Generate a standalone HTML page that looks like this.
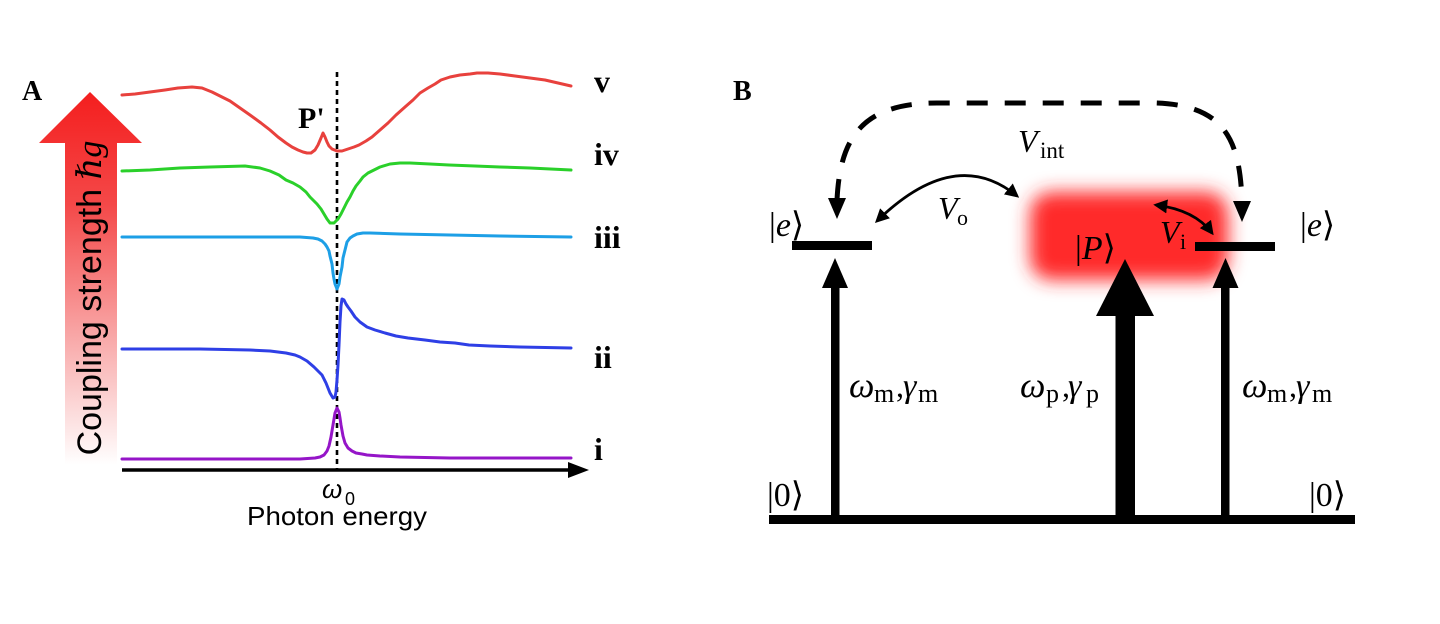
<!DOCTYPE html>
<html>
<head>
<meta charset="utf-8">
<style>
  html,body{margin:0;padding:0;background:#fff;}
  svg{display:block;}
  .lbl{font-family:"Liberation Serif","DejaVu Serif",serif;font-weight:bold;fill:#000;}
  .m{font-family:"Liberation Serif","DejaVu Serif",serif;fill:#000;}
  .it{font-style:italic;}
  .sans{font-family:"Liberation Sans","DejaVu Sans",sans-serif;fill:#000;}
</style>
</head>
<body>
<svg width="1440" height="624" viewBox="0 0 1440 624" xmlns="http://www.w3.org/2000/svg">
  <defs>
    <linearGradient id="ag" x1="0" y1="92" x2="0" y2="465" gradientUnits="userSpaceOnUse">
      <stop offset="0" stop-color="#f41e1e"/>
      <stop offset="0.3" stop-color="#f44848"/>
      <stop offset="0.7" stop-color="#f9b3b3"/>
      <stop offset="1" stop-color="#ffffff"/>
    </linearGradient>
    <filter id="blur" x="-30%" y="-50%" width="160%" height="200%">
      <feGaussianBlur stdDeviation="9"/>
    </filter>
    <marker id="ah" viewBox="0 0 10 10" refX="8" refY="5" markerWidth="5" markerHeight="5" orient="auto-start-reverse" markerUnits="strokeWidth">
      <path d="M0,0 L10,5 L0,10 z" fill="#000"/>
    </marker>
  </defs>
  <rect width="1440" height="624" fill="#fff"/>

  <!-- ================= Panel A ================= -->
  <text class="lbl" x="22" y="100" font-size="28">A</text>

  <!-- gradient arrow -->
  <polygon points="90,92 142,143 117,143 117,466 65,466 65,143 39,143" fill="url(#ag)"/>
  <text class="sans" font-size="34" transform="translate(101,298) rotate(-90)" text-anchor="middle">Coupling strength <tspan class="m it" font-size="34">ℏg</tspan></text>

  <!-- dashed line -->
  <line x1="337" y1="72" x2="337" y2="470" stroke="#000" stroke-width="2.6" stroke-dasharray="5 4"/>

  <!-- curves -->
  <polyline fill="none" stroke="#e8413d" stroke-width="3" stroke-linejoin="round" stroke-linecap="round"
    points="122,95 135,94 150,92 165,90 178,88 192,87 202,88 212,92 222,97 230,101 240,108 250,115 261,123 270,130 278,137 286,143 292,147 298,150 303,152 307,153 311,153 315,150 318,145 321,138 323,133 325,137 327,142 329,146 332,149 337,151 342,151 348,149 354,147 359,145 366,141 372,137 380,130 388,123 396,115 405,107 413,100 420,93 428,88 435,84 441,80 450,77 460,75 470,74 477,73 488,73 500,74 515,76 530,78 545,80 558,83 571,86"/>
  <polyline fill="none" stroke="#2ad02a" stroke-width="3" stroke-linejoin="round" stroke-linecap="round"
    points="122,171 150,170 180,168 210,167 245,166 260,168 270,171 279,175 286,180 293,183 300,187 306,192 310,197 314,201 317,204 321,209 324,214 327,219 330,223 334,223 338,219 341,214 344,208 347,202 350,197 353,191 356,186 360,181 363,177 368,173 372,171 380,167 390,164 400,163 410,163 430,164 449,165 475,166 500,167 530,168 571,170"/>
  <polyline fill="none" stroke="#1d9fe6" stroke-width="3" stroke-linejoin="round" stroke-linecap="round"
    points="122,237 200,237 250,237 300,237 313,238 318,239 322,241 325,244 327,247 329,251 330,256 332,264 333,273 334,279 335,284 337,289 339,284 340,277 342,267 343,258 345,250 347,242 350,238 353,236 357,234 363,233 370,233 400,234 450,235 500,236 571,237"/>
  <polyline fill="none" stroke="#2e3fe6" stroke-width="3" stroke-linejoin="round" stroke-linecap="round"
    points="122,349 160,349 200,349 250,350 270,351 286,353 295,355 300,357 307,361 314,367 318,371 322,375 324,379 326,383 328,388 330,393 333,398 335,397 336,392 337,380 338,365 339,345 340,322 341,306 342,299 344,300 346,304 348,307 351,311 355,317 360,322 367,327 375,330 385,333 396,336 408,338 425,340 440,342 455,343 469,345 490,346 520,347 571,348"/>
  <polyline fill="none" stroke="#9515c8" stroke-width="3" stroke-linejoin="round" stroke-linecap="round"
    points="122,459 200,459 300,459 315,458 320,457 324,455 327,451 329,446 331,437 333,425 335,413 337,408 339,412 340,418 341,425 343,436 345,443 348,448 352,451 356,453 362,454 367,455 380,456 400,457 450,458 500,458 571,458"/>

  <!-- x axis -->
  <line x1="122" y1="470" x2="574" y2="470" stroke="#000" stroke-width="3.5"/>
  <polygon points="589,470 568,462 568,478" fill="#000"/>

  <text class="lbl" x="298" y="128" font-size="30">P'</text>

  <!-- series labels -->
  <text class="lbl" x="594" y="92" font-size="32">v</text>
  <text class="lbl" x="594" y="165" font-size="32">iv</text>
  <text class="lbl" x="594" y="248" font-size="32">iii</text>
  <text class="lbl" x="594" y="368" font-size="32">ii</text>
  <text class="lbl" x="594" y="460" font-size="32">i</text>

  <!-- axis labels -->
  <text class="sans it" x="322" y="498" font-size="26">ω</text>
  <text class="sans" x="345" y="505" font-size="18">0</text>
  <text class="sans" x="247" y="525" font-size="26" textLength="180" lengthAdjust="spacingAndGlyphs">Photon energy</text>

  <!-- ================= Panel B ================= -->
  <text class="lbl" x="733" y="100" font-size="28">B</text>

  <!-- red glow -->
  <rect x="1030" y="192" width="198" height="88" rx="22" fill="#ff2a2a" filter="url(#blur)"/>

  <!-- dashed interaction arc -->
  <path d="M 837 200 C 840 140, 860 103, 937 103 L 1155 103 C 1225 105, 1240 140, 1242 202" fill="none" stroke="#000" stroke-width="5" stroke-dasharray="21 17"/>
  <polygon points="837,219 828,198 846,198" fill="#000"/>
  <polygon points="1242,222 1233,201 1251,201" fill="#000"/>

  <text class="m it" x="1018" y="152" font-size="32">V</text>
  <text class="m" x="1040" y="158" font-size="23">int</text>

  <!-- levels -->
  <rect x="792" y="241" width="80" height="9" fill="#000"/>
  <rect x="1195" y="242" width="80" height="9" fill="#000"/>

  <!-- V_o arc -->
  <path d="M 877 221 Q 955 145 1017 196" fill="none" stroke="#000" stroke-width="2.8" marker-start="url(#ah)" marker-end="url(#ah)"/>
  <text class="m it" x="938" y="219" font-size="32">V</text>
  <text class="m" x="957" y="225" font-size="22">o</text>

  <!-- V_i arrow -->
  <path d="M 1156 205 Q 1195 210 1212 233" fill="none" stroke="#000" stroke-width="2.8" marker-start="url(#ah)" marker-end="url(#ah)"/>
  <text class="m it" x="1160" y="243" font-size="32">V</text>
  <text class="m" x="1180" y="249" font-size="22">i</text>

  <!-- kets -->
  <text class="m" x="769" y="236" font-size="34">|<tspan class="it">e</tspan>⟩</text>
  <text class="m" x="1300" y="236" font-size="34">|<tspan class="it">e</tspan>⟩</text>
  <text class="m" x="1075" y="259" font-size="34" fill="#1a0000">|<tspan class="it">P</tspan>⟩</text>
  <text class="m" x="767" y="506" font-size="34">|0⟩</text>
  <text class="m" x="1309" y="506" font-size="34">|0⟩</text>

  <!-- vertical arrows -->
  <rect x="831" y="284" width="8.5" height="234" fill="#000"/>
  <polygon points="835,258 848,288 822,288" fill="#000"/>
  <rect x="1115.5" y="312" width="19.5" height="206" fill="#000"/>
  <polygon points="1125,259 1154,316 1096,316" fill="#000"/>
  <rect x="1221" y="284" width="8.5" height="234" fill="#000"/>
  <polygon points="1225.5,258 1238.5,288 1212.5,288" fill="#000"/>

  <!-- baseline -->
  <rect x="769" y="515" width="586" height="9" fill="#000"/>

  <!-- transition labels -->
  <g class="m">
    <text class="m it" x="849" y="397" font-size="36">ω</text>
    <text class="m" x="874" y="402" font-size="26">m</text>
    <text class="m" x="896" y="397" font-size="32">,</text>
    <text class="m it" x="903" y="397" font-size="34">γ</text>
    <text class="m" x="918" y="402" font-size="26">m</text>

    <text class="m it" x="1020" y="397" font-size="36">ω</text>
    <text class="m" x="1046" y="402" font-size="26">p</text>
    <text class="m" x="1062" y="397" font-size="32">,</text>
    <text class="m it" x="1068" y="397" font-size="34">γ</text>
    <text class="m" x="1086" y="402" font-size="26">p</text>

    <text class="m it" x="1242" y="397" font-size="36">ω</text>
    <text class="m" x="1267" y="402" font-size="26">m</text>
    <text class="m" x="1289" y="397" font-size="32">,</text>
    <text class="m it" x="1296" y="397" font-size="34">γ</text>
    <text class="m" x="1312" y="402" font-size="26">m</text>
  </g>
</svg>
</body>
</html>
